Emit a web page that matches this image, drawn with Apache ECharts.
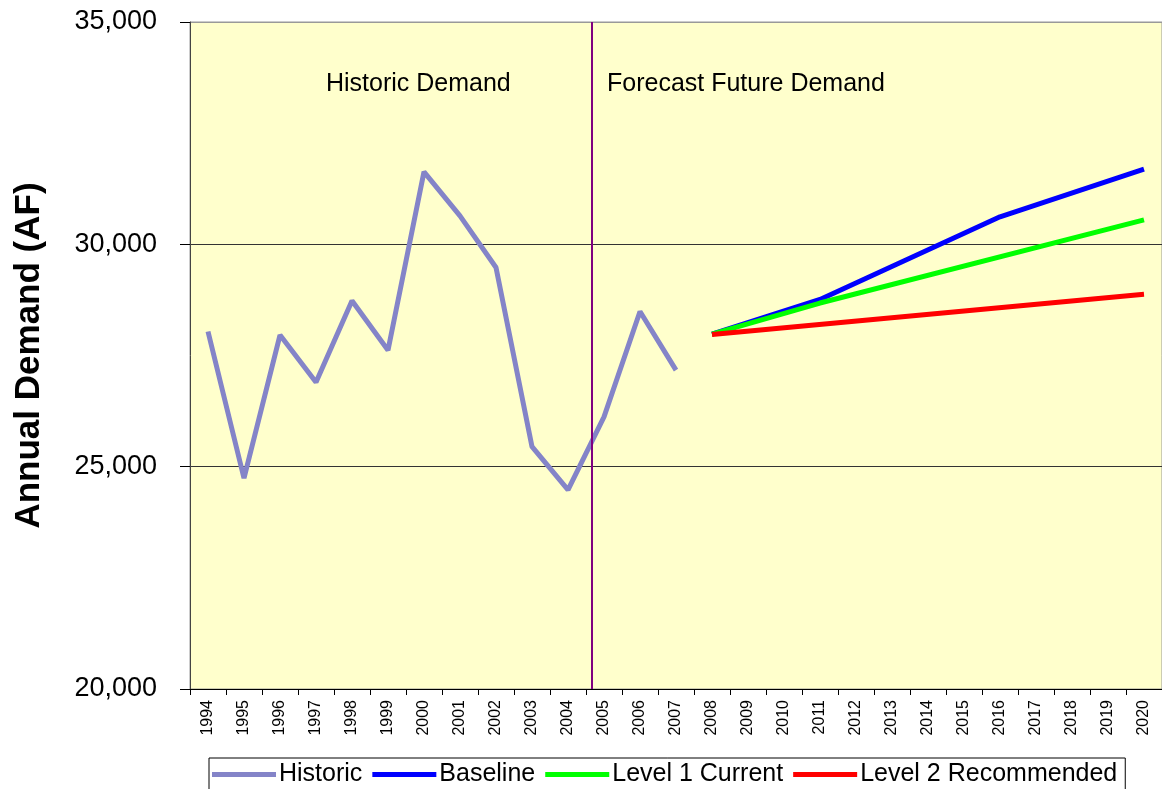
<!DOCTYPE html>
<html>
<head>
<meta charset="utf-8">
<script src="https://cdn.jsdelivr.net/npm/echarts@6/dist/echarts.min.js"></script>
<style>
  html, body { margin: 0; padding: 0; background: #fff; }
  #chart { width: 1162px; height: 789px; }
</style>
</head>
<body>
<div id="chart"></div>
<script>
// Years on the category axis
const years = [];
for (let y = 1994; y <= 2020; y++) years.push(String(y));

// Historic demand 1994-2007 (AF)
const historic = [28040, 24740, 27960, 26900, 28730, 27620, 31630, 30640, 29480, 25450, 24480, 26120, 28490, 27170,
  null, null, null, null, null, null, null, null, null, null, null, null, null];

// Forecasts, only the break points; straight segments in between
const baseline = [null, null, null, null, null, null, null, null, null, null, null, null, null, null,
  27980, null, null, 28760, null, null, null, null, 30620, null, null, null, 31690];
const level1 = [null, null, null, null, null, null, null, null, null, null, null, null, null, null,
  27980, null, null, 28680, null, null, null, null, null, null, null, null, 30550];
const level2 = [null, null, null, null, null, null, null, null, null, null, null, null, null, null,
  27970, null, null, null, null, null, null, null, null, null, null, null, 28880];

// Where the historic / forecast divider sits (a little past the 2004 point)
const dividerYear = 2004.67;

const chart = echarts.init(document.getElementById('chart'));

const font = 'Liberation Sans, Arial, sans-serif';

function lineSeries(name, data, color) {
  return {
    name: name,
    type: 'line',
    data: data,
    connectNulls: true,
    symbol: 'none',
    lineStyle: { color: color, width: 5 },
    itemStyle: { color: color },
    animation: false
  };
}

chart.setOption({
  backgroundColor: '#fff',
  animation: false,
  textStyle: { fontFamily: font },
  grid: {
    left: 190, right: -2, top: 22, bottom: 100,
    show: true,
    backgroundColor: '#FFFFCC',
    borderColor: '#999',
    borderWidth: 1
  },
  legend: {
    data: ['Historic', 'Baseline', 'Level 1 Current', 'Level 2 Recommended'],
    left: 209,
    top: 758,
    borderColor: '#000',
    borderWidth: 1,
    padding: [4, 8, 10, 3],
    itemGap: 10,
    icon: 'rect',
    itemWidth: 64,
    itemHeight: 5,
    textStyle: { fontSize: 25, color: '#000', fontFamily: font, padding: [0, 0, 0, -2] }
  },
  xAxis: [{
    type: 'category',
    data: years,
    boundaryGap: true,
    axisLine: { lineStyle: { color: '#000', width: 1 } },
    axisTick: { show: true, interval: 0, length: 6, lineStyle: { color: '#000' } },
    axisLabel: { interval: 0, rotate: 90, fontSize: 16, color: '#000', margin: 11, fontFamily: font },
    splitLine: { show: false }
  }, {
    type: 'value',
    min: 1993.5,
    max: 2020.5,
    show: false
  }],
  yAxis: {
    type: 'value',
    min: 20000,
    max: 35000,
    interval: 5000,
    name: 'Annual Demand (AF)',
    nameLocation: 'middle',
    nameGap: 143,
    nameTextStyle: { fontSize: 35, fontWeight: 'bold', color: '#000', fontFamily: font },
    axisLine: { show: true, lineStyle: { color: '#444', width: 1 } },
    axisTick: { show: true, length: 10, lineStyle: { color: '#000' } },
    axisLabel: {
      fontSize: 27, color: '#000', margin: 33, fontFamily: font,
      formatter: v => v.toLocaleString('en-US')
    },
    splitLine: { show: true, lineStyle: { color: ['#000', '#333', '#333', '#999'], width: 1 } }
  },
  graphic: [
    { type: 'text', left: 326, top: 72, style: { text: 'Historic Demand', fontSize: 25, fill: '#000', fontFamily: font } },
    { type: 'text', left: 607, top: 72, style: { text: 'Forecast Future Demand', fontSize: 25, fill: '#000', fontFamily: font } }
  ],
  series: [
    lineSeries('Historic', historic, '#8484c8'),
    lineSeries('Baseline', baseline, '#0000ff'),
    lineSeries('Level 1 Current', level1, '#00ff00'),
    lineSeries('Level 2 Recommended', level2, '#ff0000'),
    {
      type: 'line',
      xAxisIndex: 1,
      data: [],
      silent: true,
      markLine: {
        symbol: 'none',
        silent: true,
        label: { show: false },
        lineStyle: { color: '#800080', width: 2, type: 'solid' },
        data: [{ xAxis: dividerYear }]
      }
    }
  ]
});
</script>
</body>
</html>
